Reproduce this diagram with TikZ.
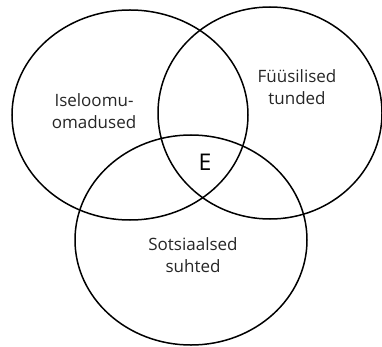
\documentclass[tikz,border=0pt]{standalone}
\usepackage{fontspec}
\setmainfont{Open Sans}
\begin{document}
\begin{tikzpicture}[x=1pt,y=-1pt,
  ring/.style={draw=black,line width=1.5pt},
  lbl/.style={align=center,font=\fontsize{17}{22}\selectfont,text=black!85,inner sep=0pt},
  elbl/.style={font=\fontsize{23}{26}\selectfont,inner sep=0pt}]
\useasboundingbox (0,0) rectangle (382,347);
\begin{scope}
\clip (0,0) rectangle (382,347);
\draw[ring] (130,115) ellipse [x radius=118,y radius=105];
\draw[ring] (270,113) ellipse [x radius=112,y radius=106];
\draw[ring] (191,240) ellipse [x radius=116,y radius=105];
\end{scope}
\node[lbl] (a) at (94,111) {Iseloomu-\\omadused};
\node[lbl] (b) at (297,87) {Füüsilised\\tunded};
\node[lbl] (c) at (193,255) {Sotsiaalsed\\suhted};
\node[elbl] (e) at (205,162) {E};
\end{tikzpicture}
\end{document}
